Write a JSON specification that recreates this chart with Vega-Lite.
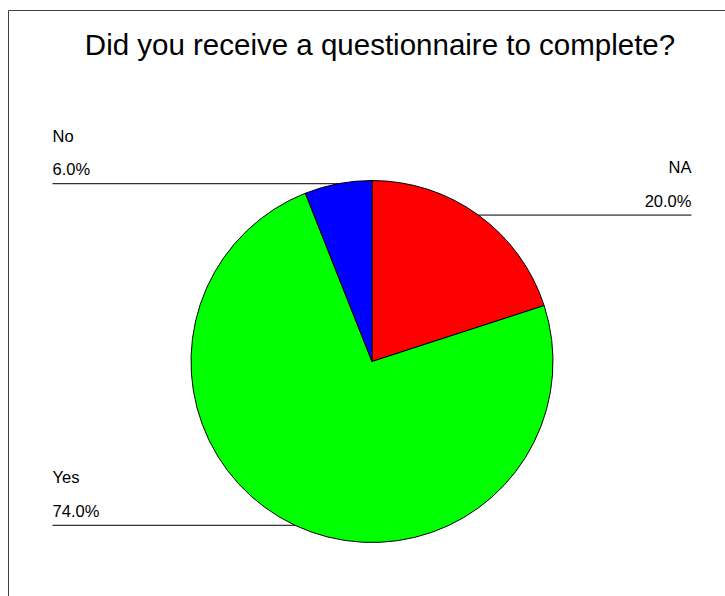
{
  "$schema": "https://vega.github.io/schema/vega-lite/v6.json",
  "autosize": "none",
  "width": 728,
  "height": 703,
  "padding": {"left": 8, "top": 10, "right": 0, "bottom": 0},
  "background": "white",
  "config": {"view": {"stroke": "#404040", "strokeWidth": 1}, "font": "Liberation Sans"},
  "title": {
    "text": "Did you receive a questionnaire to complete?",
    "font": "Liberation Sans",
    "fontSize": 29.5,
    "fontWeight": "normal",
    "color": "#000000",
    "anchor": "middle",
    "frame": "group",
    "baseline": "alphabetic",
    "offset": -74,
    "dx": 8
  },
  "data": {
    "values": [
      {"category": "NA", "percent": 20.0, "order": 1},
      {"category": "Yes", "percent": 74.0, "order": 2},
      {"category": "No", "percent": 6.0, "order": 3}
    ]
  },
  "transform": [
    {"window": [{"op": "sum", "field": "percent", "as": "cum"}], "sort": [{"field": "order"}], "frame": [null, 0]},
    {"calculate": "(datum.cum - datum.percent / 2) / 100 * 2 * PI", "as": "mid"},
    {"calculate": "sin(datum.mid)", "as": "px"},
    {"calculate": "cos(datum.mid)", "as": "py"},
    {"calculate": "datum.px < 0 ? -1.765 : 1.765", "as": "lx"},
    {"calculate": "format(datum.percent, '.1f') + '%'", "as": "pctLabel"}
  ],
  "layer": [
    {
      "mark": {"type": "arc", "outerRadius": 181, "stroke": "#000000", "strokeWidth": 1},
      "encoding": {
        "theta": {"field": "percent", "type": "quantitative", "stack": true},
        "order": {"field": "order", "type": "quantitative"},
        "color": {
          "field": "category",
          "type": "nominal",
          "scale": {"domain": ["NA", "Yes", "No"], "range": ["#ff0000", "#00ff00", "#0000ff"]},
          "legend": null
        }
      }
    },
    {
      "mark": {"type": "rule", "color": "#000000", "strokeWidth": 1},
      "encoding": {
        "x": {"field": "lx", "type": "quantitative", "scale": {"domain": [-2.011, 2.011], "nice": false, "zero": false}, "axis": null},
        "x2": {"field": "px"},
        "y": {"field": "py", "type": "quantitative", "scale": {"domain": [-1.942, 1.942], "nice": false, "zero": false}, "axis": null}
      }
    },
    {
      "mark": {"type": "text", "fontSize": 16.5, "baseline": "alphabetic", "dy": -42, "color": "#000000", "align": {"expr": "datum.px < 0 ? 'left' : 'right'"}},
      "encoding": {
        "x": {"field": "lx", "type": "quantitative"},
        "y": {"field": "py", "type": "quantitative"},
        "text": {"field": "category"}
      }
    },
    {
      "mark": {"type": "text", "fontSize": 16.5, "baseline": "alphabetic", "dy": -8.5, "color": "#000000", "align": {"expr": "datum.px < 0 ? 'left' : 'right'"}},
      "encoding": {
        "x": {"field": "lx", "type": "quantitative"},
        "y": {"field": "py", "type": "quantitative"},
        "text": {"field": "pctLabel"}
      }
    }
  ]
}
